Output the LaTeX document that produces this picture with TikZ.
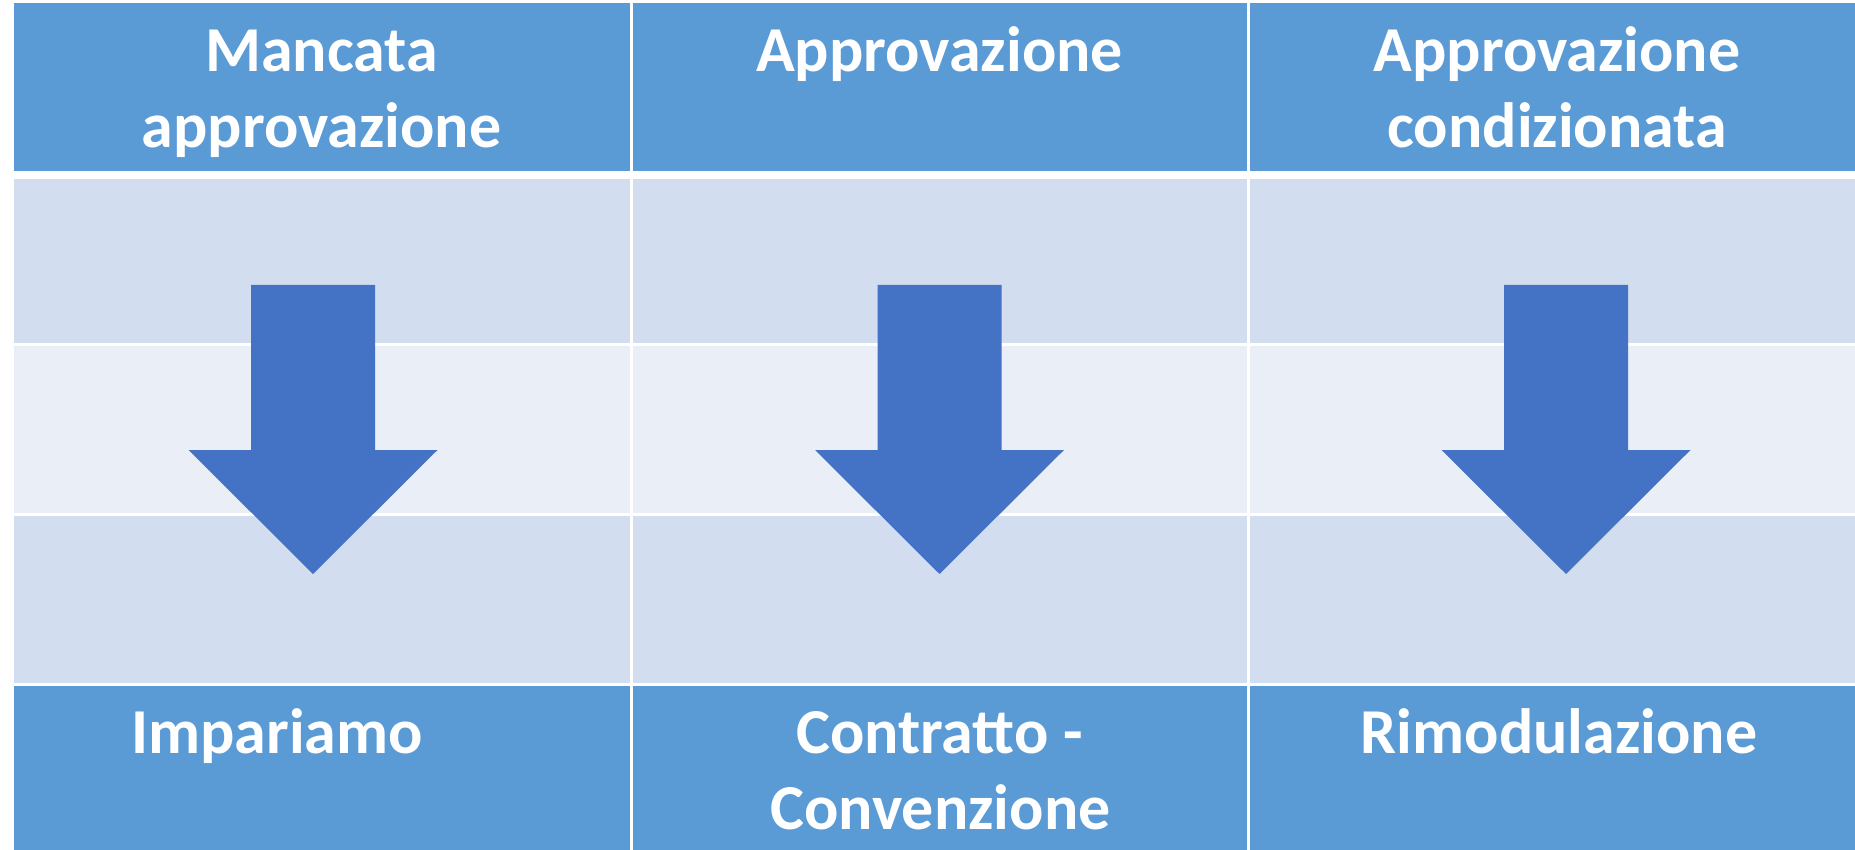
\documentclass[tikz,border=0pt]{standalone}
\usepackage{fontspec}
\setmainfont{Carlito}
\definecolor{hdr}{HTML}{5B9BD5}
\definecolor{rowa}{HTML}{D2DEEF}
\definecolor{rowb}{HTML}{EAEFF7}
\definecolor{arr}{HTML}{4472C4}
\begin{document}
\begin{tikzpicture}[x=1pt,y=-1pt,
  txt/.style={anchor=base, inner sep=0pt, outer sep=0pt, text=white,
    font=\fontsize{64}{76}\selectfont\bfseries},
  arrowshape/.style={fill=arr, draw=none}]
\useasboundingbox (0,0) rectangle (1855,850);
\fill[white] (0,0) rectangle (1855,850);
% column edges
\def\ca{13.5}\def\cb{629.5}\def\cc{632.5}\def\cd{1247}\def\ce{1250}\def\cf{1855}
% rows
\foreach \xl/\xr in {\ca/\cb,\cc/\cd,\ce/\cf}{
  \fill[hdr]  (\xl,3.5)   rectangle (\xr,170.7);
  \fill[rowa] (\xl,179)   rectangle (\xr,343.3);
  \fill[rowb] (\xl,345.9) rectangle (\xr,512.8);
  \fill[rowa] (\xl,515.6) rectangle (\xr,682.8);
  \fill[hdr]  (\xl,685.5) rectangle (\xr,850);
}
% arrows
\foreach \c in {313,939.5,1566}{
  \fill[arrowshape] (\c-62,285) -- (\c+62,285) -- (\c+62,450) -- (\c+124.5,450)
    -- (\c,574) -- (\c-124.5,450) -- (\c-62,450) -- cycle;
}
% header texts
\node[txt] (h1a) at (321.5,71.7) {Mancata};
\node[txt] (h1b) at (321.5,148) {approvazione};
\node[txt] (h2a) at (939.5,71.7) {Approvazione};
\node[txt] (h3a) at (1557,71.7) {Approvazione};
\node[txt] (h3b) at (1557,148) {condizionata};
% footer texts
\node[txt] (f1) at (277,753.3) {Impariamo};
\node[txt] (f2a) at (939.5,753.3) {Contratto -};
\node[txt] (f2b) at (940.5,829) {Convenzione};
\node[txt] (f3) at (1559,753.3) {Rimodulazione};
\end{tikzpicture}
\end{document}
